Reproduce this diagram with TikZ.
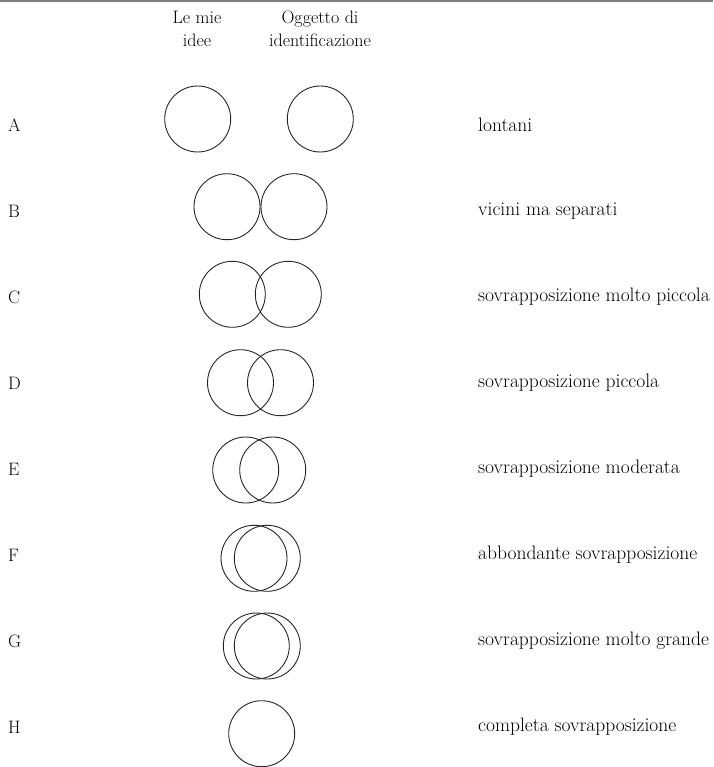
\documentclass[tikz,border=0pt]{standalone}
\usepackage{tikz}
\usetikzlibrary{positioning}

\begin{document}
\begin{tikzpicture}[x=1pt, y=-1pt,
    ring/.style={draw=black!85, circle, minimum size=66pt, inner sep=0pt,
                 line width=0.9pt},
    rowlbl/.style={anchor=west, inner sep=0pt,
                   font=\fontsize{18}{21}\selectfont},
    desc/.style={anchor=west, inner sep=0pt,
                 font=\fontsize{19.5}{21}\selectfont},
    head/.style={align=center, inner sep=0pt,
                 font=\fontsize{18}{22.5}\selectfont}]
  \useasboundingbox (0,0) rectangle (713,767);
  \draw[gray, line width=2.5pt] (0,1) -- (713,1);

  % column headings
  \node[head] (hidee) at (197,29) {Le mie\\idee};
  \node[head] (hogg) at (320,29) {Oggetto di\\identificazione};

  % A
  \node[rowlbl] (lA) at (8,125) {A};
  \node[ring] (iA) at (197.7,119) {};
  \node[ring] (oA) at (320.3,119) {};
  \node[desc] (dA) at (478,125) {lontani};
  % B
  \node[rowlbl] (lB) at (8,211) {B};
  \node[ring] (iB) at (227,206.7) {};
  \node[ring] (oB) at (294,206.7) {};
  \node[desc] (dB) at (478,211) {vicini ma separati};
  % C
  \node[rowlbl] (lC) at (8,297) {C};
  \node[ring] (iC) at (232.3,294.3) {};
  \node[ring] (oC) at (288.3,294.3) {};
  \node[desc] (dC) at (478,297) {sovrapposizione molto piccola};
  % D
  \node[rowlbl] (lD) at (8,383) {D};
  \node[ring] (iD) at (240.5,382.7) {};
  \node[ring] (oD) at (280.5,382.7) {};
  \node[desc] (dD) at (478,383) {sovrapposizione piccola};
  % E
  \node[rowlbl] (lE) at (8,469) {E};
  \node[ring] (iE) at (245.7,470) {};
  \node[ring] (oE) at (272.7,470) {};
  \node[desc] (dE) at (478,469) {sovrapposizione moderata};
  % F
  \node[rowlbl] (lF) at (8,555) {F};
  \node[ring] (iF) at (254,558.3) {};
  \node[ring] (oF) at (267.3,558.3) {};
  \node[desc] (dF) at (478,555) {abbondante sovrapposizione};
  % G
  \node[rowlbl] (lG) at (8,641) {G};
  \node[ring] (iG) at (256.3,646) {};
  \node[ring] (oG) at (267.3,646) {};
  \node[desc] (dG) at (478,641) {sovrapposizione molto grande};
  % H
  \node[rowlbl] (lH) at (8,727) {H};
  \node[ring] (iH) at (261.7,733.7) {};
  \node[desc] (dH) at (478,727) {completa sovrapposizione};
\end{tikzpicture}
\end{document}
